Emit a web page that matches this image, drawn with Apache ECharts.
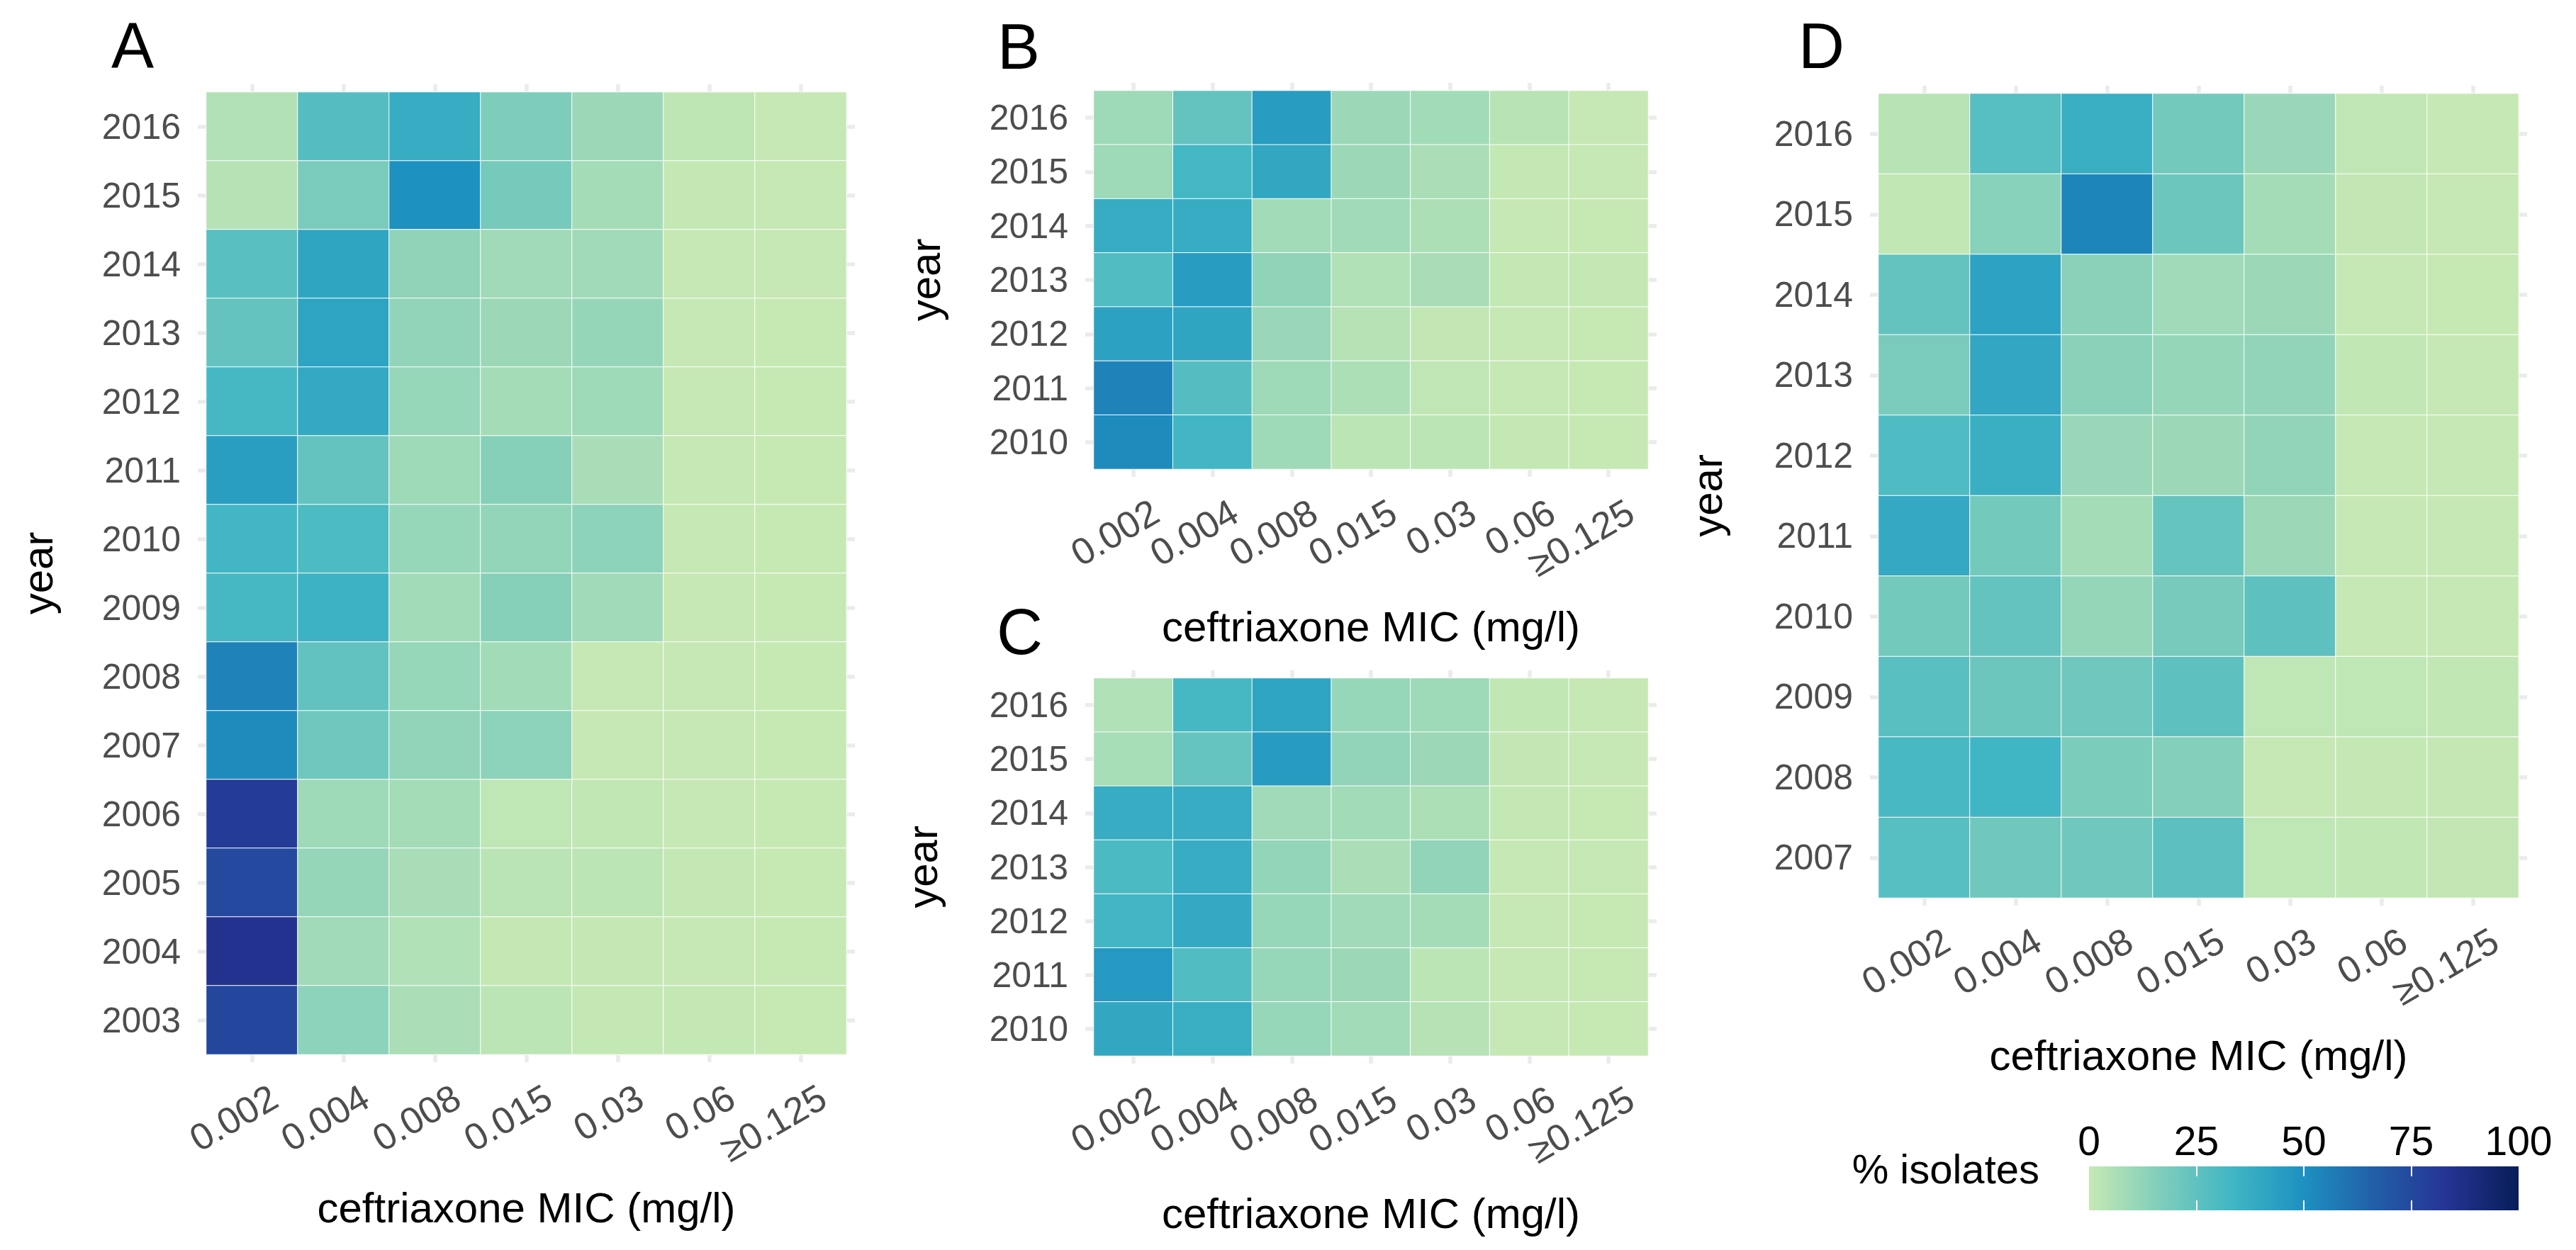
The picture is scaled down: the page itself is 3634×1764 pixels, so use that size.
<!DOCTYPE html>
<html>
<head>
<meta charset="utf-8">
<script src="https://cdn.jsdelivr.net/npm/echarts@6/dist/echarts.min.js"></script>
<style>html,body{margin:0;padding:0;background:#fff}#c{width:3634px;height:1764px}</style>
</head>
<body>
<div id="c"></div>
<script>
// ---------- data ----------
const micLabels = ['0.002', '0.004', '0.008', '0.015', '0.03', '0.06', '≥0.125'];

const yearsA = ['2016','2015','2014','2013','2012','2011','2010','2009','2008','2007','2006','2005','2004','2003'];
const valuesA = [
  [4.6, 28, 38, 17, 10, 2, 0.4],
  [4, 18, 50, 19, 8, 0.7, 0.3],
  [27, 41, 13, 9, 9, 0.5, 0.3],
  [24, 42, 12.5, 10, 11.5, 0.3, 0.2],
  [32, 39, 11, 8, 9.5, 0.3, 0.2],
  [44, 24, 9.5, 15, 7, 0.3, 0.2],
  [33, 30, 11, 12, 13.5, 0.3, 0.2],
  [32, 35, 8.5, 15, 9, 0.3, 0.2],
  [55, 24.5, 11.4, 8.6, 0.3, 0.3, 0.2],
  [52, 21, 12.5, 13.5, 0.3, 0.3, 0.2],
  [80, 9.5, 8, 1.9, 1.4, 0.3, 0.2],
  [75, 11.5, 7, 3, 2.5, 0.8, 0.2],
  [85, 9, 5, 0.7, 0.7, 0.4, 0.2],
  [76, 13.5, 6.5, 2.5, 0.7, 0.6, 0.2]
];

const yearsB = ['2016','2015','2014','2013','2012','2011','2010'];
const valuesB = [
  [9.5, 24, 45, 10, 8.5, 3.5, 0.3],
  [9.5, 32.5, 40, 10, 6.5, 0.7, 0.3],
  [38, 38, 8.5, 9, 6, 0.3, 0.2],
  [29, 45, 13, 5, 7, 0.7, 0.7],
  [43, 41, 10.5, 4, 1, 0.5, 0.2],
  [55, 28, 9.5, 6, 1.5, 0.5, 0.2],
  [52, 33, 9.5, 2.5, 2.5, 0.7, 0.2]
];

const yearsC = ['2016','2015','2014','2013','2012','2011','2010'];
const valuesC = [
  [5, 32, 41.5, 11, 9.5, 1.3, 0.3],
  [7.4, 23.4, 45.5, 12.5, 10, 0.9, 0.3],
  [38, 38, 9, 8.5, 6, 0.6, 0.2],
  [30.5, 38, 12, 6.5, 12.5, 0.3, 0.3],
  [33, 39, 11, 9, 8, 0.3, 0.2],
  [46.5, 29, 11, 10, 2.6, 0.4, 0.2],
  [40, 37, 11, 8.5, 4, 0.3, 0.2]
];

const yearsD = ['2016','2015','2014','2013','2012','2011','2010','2009','2008','2007'];
const valuesD = [
  [3.5, 27.5, 37, 19.5, 10.5, 1.5, 0.3],
  [1.4, 14.5, 54, 21.5, 8, 0.9, 0.3],
  [24, 42.5, 14, 9, 10, 0.3, 0.2],
  [18, 40.5, 14, 11.5, 12.5, 1.4, 0.3],
  [29.5, 36.5, 10.5, 10, 12.5, 0.4, 0.4],
  [39, 19.5, 8, 23.5, 10, 0.3, 0.3],
  [19.5, 24, 11.5, 18.5, 25.5, 0.3, 0.3],
  [27, 21.5, 21, 25.5, 1.9, 1.9, 1.4],
  [31.5, 34, 17.5, 15.5, 0.3, 0.6, 0.6],
  [27.5, 21, 21, 26, 1.9, 1.4, 0.9]
];

const legendTicks = [0, 25, 50, 75, 100];
const palette = ['#c7e9b4', '#7fcdbb', '#41b6c4', '#1d91c0', '#225ea8', '#253494', '#081d58'];

// ---------- layout / style ----------
const FONT = 'Liberation Sans, Arial, sans-serif';
const panels = [
  { letter: 'A', years: yearsA, values: valuesA, grid: { left: 291, top: 130, width: 903, height: 1358 }, xGap: 186, yGap: 208, lx: 157, ly: 64 },
  { letter: 'B', years: yearsB, values: valuesB, grid: { left: 1543, top: 128, width: 782, height: 534 }, xGap: 192, yGap: 208, lx: 1407, ly: 66 },
  { letter: 'C', years: yearsC, values: valuesC, grid: { left: 1543, top: 957, width: 782, height: 533 }, xGap: 192, yGap: 212, lx: 1406, ly: 892 },
  { letter: 'D', years: yearsD, values: valuesD, grid: { left: 2650, top: 132, width: 903, height: 1135 }, xGap: 192, yGap: 212, lx: 2537, ly: 65 }
];

const tickStyle = { color: '#ebebeb', width: 5.5 };
const grids = [], xAxes = [], yAxes = [], series = [], graphics = [];

panels.forEach((p, i) => {
  grids.push(Object.assign({ containLabel: false }, p.grid));
  xAxes.push({
    gridIndex: i, type: 'category', data: micLabels, position: 'bottom',
    axisLine: { show: false }, splitLine: { show: false },
    axisTick: { show: true, alignWithLabel: true, length: 11, lineStyle: tickStyle },
    axisLabel: { interval: 0, rotate: 30, fontSize: 53, color: '#4d4d4d', fontFamily: FONT,
                 margin: 2, verticalAlign: 'top', padding: [36, 0, 0, 0] },
    name: 'ceftriaxone MIC (mg/l)', nameLocation: 'middle', nameGap: p.xGap,
    nameTextStyle: { fontSize: 60, color: '#000', fontFamily: FONT }
  });
  xAxes.push({
    gridIndex: i, type: 'category', data: micLabels, position: 'top',
    axisLine: { show: false }, splitLine: { show: false },
    axisTick: { show: true, alignWithLabel: true, length: 11, lineStyle: tickStyle },
    axisLabel: { show: false }
  });
  yAxes.push({
    gridIndex: i, type: 'category', data: p.years, inverse: true, position: 'left',
    axisLine: { show: false }, splitLine: { show: false },
    axisTick: { show: true, alignWithLabel: true, length: 12, lineStyle: tickStyle },
    axisLabel: { interval: 0, fontSize: 50, color: '#4d4d4d', fontFamily: FONT, margin: 36 },
    name: 'year', nameLocation: 'middle', nameGap: p.yGap,
    nameTextStyle: { fontSize: 60, color: '#000', fontFamily: FONT }
  });
  yAxes.push({
    gridIndex: i, type: 'category', data: p.years, inverse: true, position: 'right',
    axisLine: { show: false }, splitLine: { show: false },
    axisTick: { show: true, alignWithLabel: true, length: 12, lineStyle: tickStyle },
    axisLabel: { show: false }
  });
  const data = [];
  p.values.forEach((row, yi) => row.forEach((v, xi) => data.push([xi, yi, v])));
  series.push({
    type: 'heatmap', xAxisIndex: 2 * i, yAxisIndex: 2 * i, data: data,
    itemStyle: { borderColor: '#ffffff', borderWidth: 1 },
    emphasis: { disabled: true }, progressive: 0
  });
  graphics.push({
    type: 'text', x: p.lx, y: p.ly,
    style: { text: p.letter, fontSize: 90, fontFamily: FONT, fill: '#000', align: 'left', verticalAlign: 'middle' }
  });
});

// colour legend
grids.push({ left: 2947, top: 1646, width: 606, height: 62 });
xAxes.push({
  gridIndex: 4, type: 'value', min: legendTicks[0], max: legendTicks[legendTicks.length - 1], interval: 25, position: 'top',
  axisLine: { show: false }, splitLine: { show: false }, z: 10,
  axisTick: { show: true, inside: true, length: 14, lineStyle: { color: '#ffffff', width: 2 }, customValues: legendTicks.slice(1, -1) },
  axisLabel: { fontSize: 57, color: '#000', fontFamily: FONT, margin: 8, showMinLabel: true, showMaxLabel: true, customValues: legendTicks }
});
xAxes.push({
  gridIndex: 4, type: 'value', min: legendTicks[0], max: legendTicks[legendTicks.length - 1], interval: 25, position: 'bottom',
  axisLine: { show: false }, splitLine: { show: false }, z: 10,
  axisTick: { show: true, inside: true, length: 14, lineStyle: { color: '#ffffff', width: 2 }, customValues: legendTicks.slice(1, -1) },
  axisLabel: { show: false }
});
yAxes.push({ gridIndex: 4, type: 'category', data: ['% isolates'], show: false });
series.push({
  type: 'bar', xAxisIndex: 8, yAxisIndex: 8, data: [legendTicks[legendTicks.length - 1]], barWidth: '100%', silent: true,
  itemStyle: { color: new echarts.graphic.LinearGradient(0, 0, 1, 0,
    palette.map((c, k) => ({ offset: k / (palette.length - 1), color: c }))) }
});
graphics.push({
  type: 'text', x: 2877, y: 1649,
  style: { text: '% isolates', fontSize: 58, fontFamily: FONT, fill: '#000', align: 'right', verticalAlign: 'middle' }
});

const chart = echarts.init(document.getElementById('c'), null, { renderer: 'svg' });
chart.setOption({
  backgroundColor: '#ffffff',
  animation: false,
  grid: grids,
  xAxis: xAxes,
  yAxis: yAxes,
  visualMap: { type: 'continuous', min: 0, max: 100, show: false, seriesIndex: [0, 1, 2, 3], inRange: { color: palette } },
  series: series,
  graphic: graphics
});
</script>
</body>
</html>
